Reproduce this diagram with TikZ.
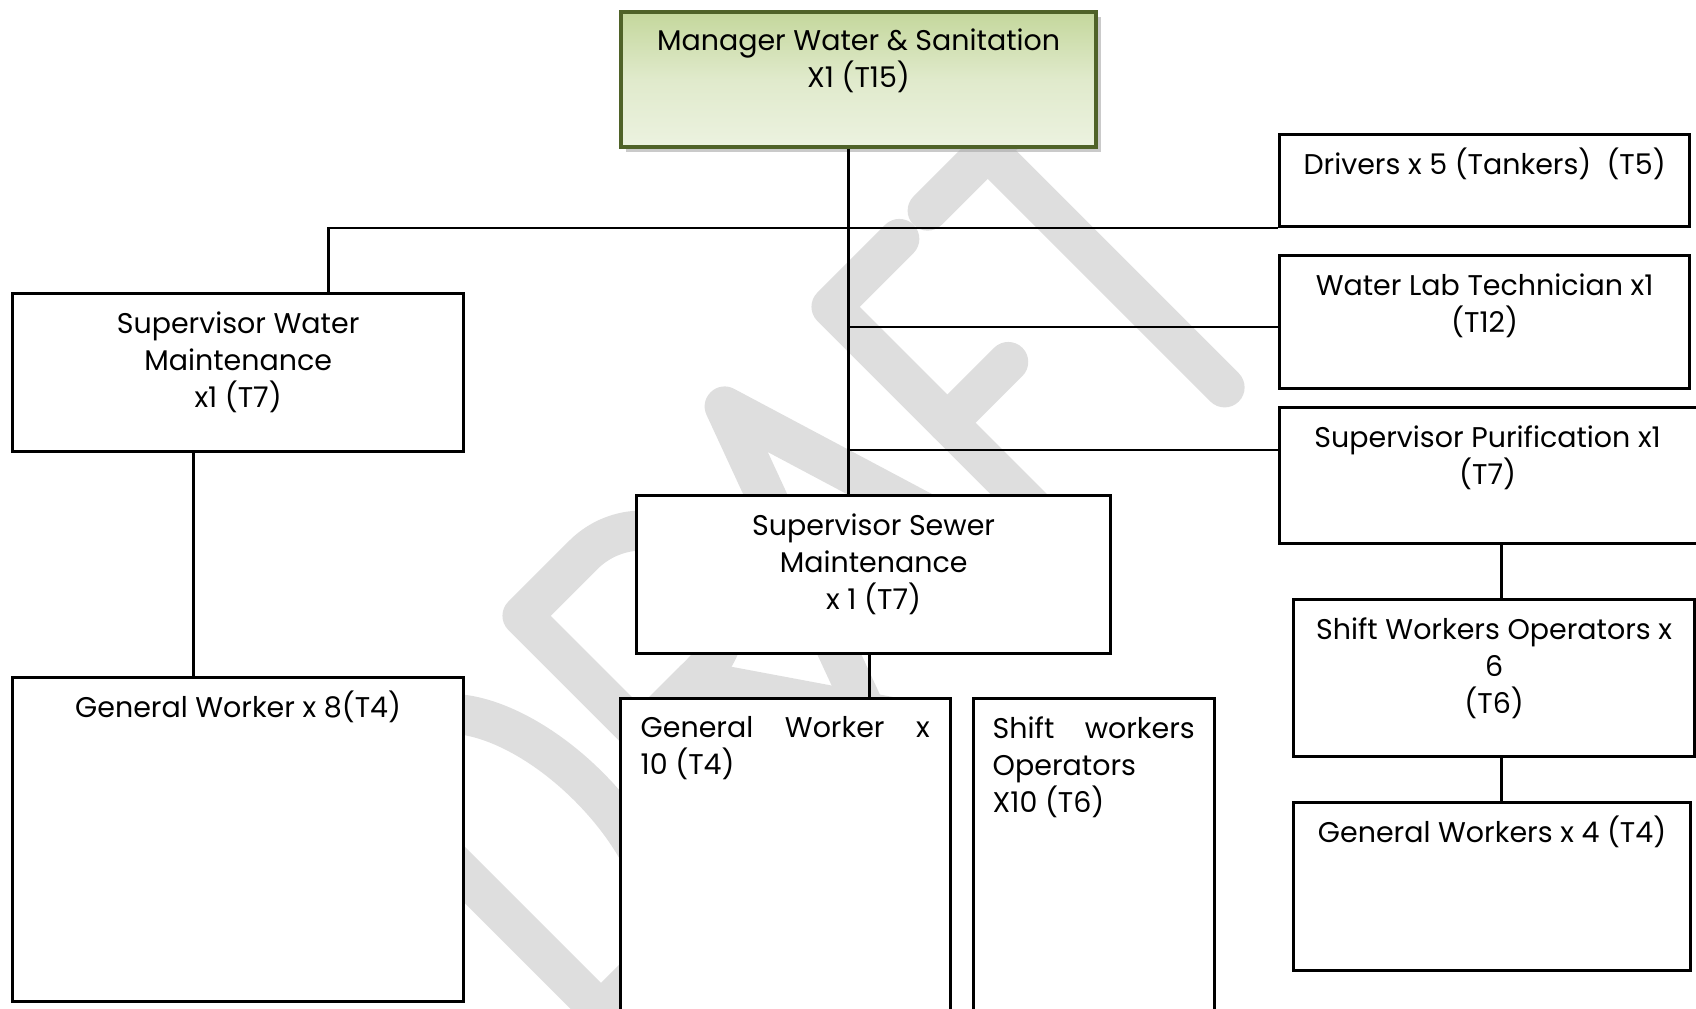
\documentclass[tikz,border=0pt]{standalone}
\usepackage{fontspec}
\setmainfont{Poppins}
\usetikzlibrary{shadows}
\definecolor{olivedark}{RGB}{79,98,40}
\definecolor{olivemid}{RGB}{196,215,156}
\definecolor{olivelight}{RGB}{236,242,224}
\definecolor{wmgray}{RGB}{222,222,222}
\tikzset{
	post/.style={draw, fill=white, line width=0.85pt, anchor=north west, inner sep=0pt},
	head/.style={post, draw=olivedark, line width=1.1pt, top color=olivemid, bottom color=olivelight, middle color=olivelight!70!olivemid, drop shadow={shadow xshift=0.05cm, shadow yshift=-0.05cm, fill=gray!70, opacity=0.6}},
	lbl/.style={anchor=north, yshift=-0.09cm, align=center, inner sep=0pt, font=\fontsize{8.1}{10.5}\selectfont, execute at begin node={\rule{0pt}{0.32cm}}},
	multi/.style={lbl, yshift=-0.1cm},
	link/.style={line width=0.8pt},
	wmark/.style={wmgray, line width=0.4cm, line cap=round, line join=round}
}
\begin{document}
\begin{tikzpicture}[x=0.01cm, y=-0.01cm]
	\useasboundingbox (0,0) rectangle (1696,1008);
	\clip (0,0) rectangle (1696,1008);
	\begin{scope}[shift={(806,806)}, x=0.01cm, y=0.01cm, rotate=45, wmark]
		\draw (-290,0) -- (-290,335) -- (-225,335) arc[start angle=90, end angle=-90, x radius=0.85cm, y radius=1.675cm] -- cycle;
		\draw (-66,0) -- (-66,335) -- (20,335) arc[start angle=90, end angle=-90, radius=0.835cm] -- (-66,168);
		\draw (10,168) -- (125,0);
		\draw (100,0) -- (225,340) -- (329,0);
		\draw (140,110) -- (295,110);
		\draw (467,335) -- (371,335) -- (371,0);
		\draw (371,171) -- (457,171);
		\draw (507,335) -- (677,335);
		\draw (592,335) -- (592,0);
	\end{scope}
	\node (mgr) [head, minimum width=4.75cm, minimum height=1.35cm, label={[multi, yshift=0.01cm]north:Manager Water \& Sanitation\\X1 (T15)}] at (619,10) {};
	\node (drivers) [post, minimum width=4.10cm, minimum height=0.92cm, label={[lbl]north:Drivers x 5 (Tankers)\ \ (T5)}] at (1278,133) {};
	\node (lab) [post, minimum width=4.10cm, minimum height=1.33cm, label={[multi]north:Water Lab Technician x1\\(T12)}] at (1278,254) {};
	\node (purif) [post, minimum width=4.30cm, minimum height=1.36cm, label={[multi, xshift=-0.07cm]north:Supervisor Purification x1\\(T7)}] at (1278,406) {};
	\node (shiftops) [post, minimum width=4.01cm, minimum height=1.57cm, label={[multi]north:Shift Workers Operators x\\6\\(T6)}] at (1292,598) {};
	\node (gw4) [post, minimum width=3.97cm, minimum height=1.68cm, label={[lbl]north:General Workers x 4 (T4)}] at (1292,801) {};
	\node (supwater) [post, minimum width=4.51cm, minimum height=1.58cm, label={[multi]north:Supervisor Water\\Maintenance\\x1 (T7)}] at (11,292) {};
	\node (gw8) [post, minimum width=4.51cm, minimum height=3.24cm, label={[lbl]north:General Worker x 8(T4)}] at (11,676) {};
	\node (sewer) [post, minimum width=4.74cm, minimum height=1.58cm, label={[multi]north:Supervisor Sewer\\Maintenance\\x 1 (T7)}] at (635,494) {};
	\node (gw10) [post, minimum width=3.30cm, minimum height=3.40cm, label={[multi, anchor=north west, xshift=0.21cm, align=left]north west:\makebox[2.89cm][s]{General Worker x}\\10 (T4)}] at (619,697) {};
	\node (shiftx10) [post, minimum width=2.41cm, minimum height=3.40cm, label={[multi, anchor=north west, xshift=0.20cm, align=left]north west:\makebox[2.02cm][s]{Shift workers}\\Operators\\X10 (T6)}] at (972,697) {};
	\coordinate (tk) at ([xshift=-0.1cm]mgr.south);
	\draw[link] (tk) -- (tk |- sewer.north);
	\draw[link] (drivers.south west) -| ([xshift=0.9cm]supwater.north);
	\path ([yshift=-0.73cm]lab.north west) coordinate (labin);
	\path ([yshift=-0.44cm]purif.north west) coordinate (purin);
	\draw[link] (tk |- labin) -- (labin);
	\draw[link] (tk |- purin) -- (purin);
	\draw[link] ([xshift=0.07cm]shiftops.north) -- ([xshift=0.07cm]shiftops.north |- purif.south);
	\draw[link] ([xshift=0.07cm]shiftops.south) -- ([xshift=0.07cm]shiftops.south |- gw4.north);
	\draw[link] ([xshift=-0.45cm]supwater.south) -- ([xshift=-0.45cm]supwater.south |- gw8.north);
	\draw[link] ([xshift=-0.04cm]sewer.south) -- ([xshift=-0.04cm]sewer.south |- gw10.north);
\end{tikzpicture}
\end{document}
